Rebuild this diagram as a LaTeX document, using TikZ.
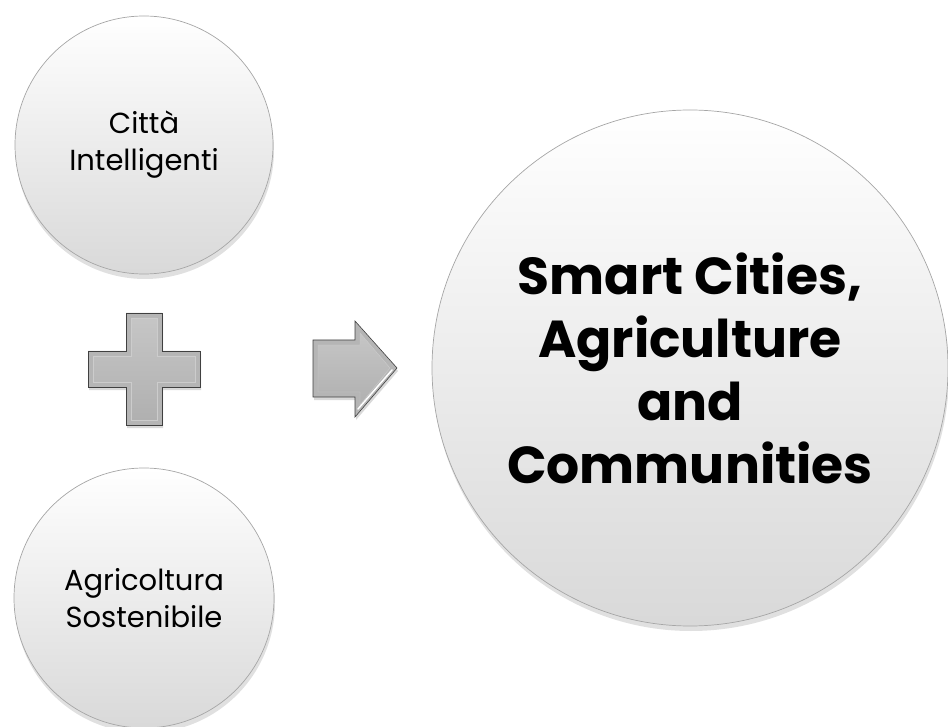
\documentclass[tikz,border=0pt]{standalone}
\usepackage{fontspec}
\setmainfont{Poppins}
\usetikzlibrary{shadows}

\tikzset{
  bubble/.style={circle, draw=gray!70, line width=0.7pt, inner sep=0pt, align=center,
    top color=white, middle color=gray!4, bottom color=gray!30,
    drop shadow={shadow xshift=1pt, shadow yshift=-5pt, opacity=.3, fill=gray!80}},
  smalltext/.style={font=\fontsize{29}{37}\selectfont},
  bigtext/.style={font=\fontsize{52}{63}\selectfont\bfseries},
  bevel/.style={fill=gray!58, draw=gray!50!black, line width=0.6pt,
    drop shadow={shadow xshift=1pt, shadow yshift=-3pt, opacity=.3}},
  facet/.style={top color=gray!45, bottom color=gray!62, draw=gray!40, line width=0.4pt},
}

\begin{document}
\begin{tikzpicture}[x=1pt,y=-1pt]
  \useasboundingbox (0,0) rectangle (948,727);
  % the three bubbles
  \node[bubble, smalltext, minimum size=258pt] (citta) at (144,145) {Città\\Intelligenti};
  \node[bubble, smalltext, minimum size=260pt] (agri) at (144,598) {Agricoltura\\Sostenibile};
  \node[bubble, bigtext, minimum size=516pt] (smart) at (690,368)
    {Smart Cities,\\Agriculture\\and\\Communities};
  % plus sign
  \draw[bevel] (126,313) -- (162,313) -- (162,351) -- (200,351) -- (200,387) -- (162,387)
    -- (162,425) -- (126,425) -- (126,387) -- (88,387) -- (88,351) -- (126,351) -- cycle;
  \path[facet] (131,318) -- (157,318) -- (157,356) -- (195,356) -- (195,382) -- (157,382)
    -- (157,420) -- (131,420) -- (131,382) -- (93,382) -- (93,356) -- (131,356) -- cycle;
  % arrow
  \draw[bevel] (313,340) -- (355,340) -- (355,321) -- (397,368) -- (355,417) -- (355,397)
    -- (313,397) -- cycle;
  \path[facet] (318,345) -- (360,345) -- (360,333) -- (390,368) -- (360,405) -- (360,392)
    -- (318,392) -- cycle;
  \draw[white, line width=1.5pt, line cap=round] (358,409) -- (392,370);
\end{tikzpicture}
\end{document}
